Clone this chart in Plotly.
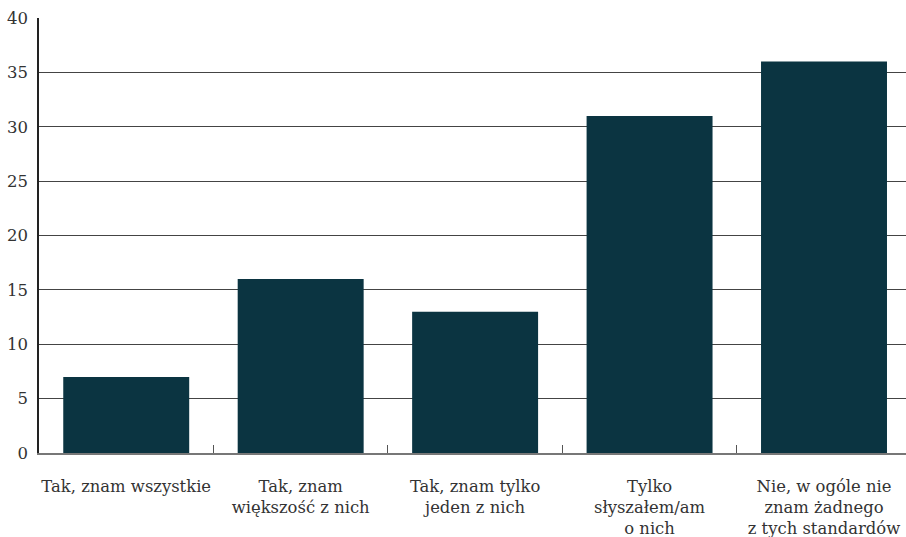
import plotly.graph_objects as go

# Survey answers and percentage of respondents
categories = [
    "Tak, znam wszystkie",
    "Tak, znam<br>większość z nich",
    "Tak, znam tylko<br>jeden z nich",
    "Tylko<br>słyszałem/am<br>o nich",
    "Nie, w ogóle nie<br>znam żadnego<br>z tych standardów",
]
values = [7, 16, 13, 31, 36]
y_ticks = [0, 5, 10, 15, 20, 25, 30, 35, 40]

FONT = "DejaVu Serif"
BAR_COLOR = "#0b3441"

fig = go.Figure(
    go.Bar(
        x=categories,
        y=values,
        width=0.722,
        marker=dict(color=BAR_COLOR, line=dict(width=0)),
        hoverinfo="skip",
    )
)

fig.update_layout(
    width=906,
    height=537,
    margin=dict(l=39, r=0, t=18, b=84),
    paper_bgcolor="white",
    plot_bgcolor="white",
    showlegend=False,
    font=dict(family=FONT, size=16, color="#333333"),
)

fig.update_xaxes(
    type="category",
    range=[-0.5, 4.47],
    tickson="boundaries",
    ticks="inside",
    ticklen=8,
    tickwidth=1,
    tickcolor="#555555",
    tickangle=0,
    automargin=False,
    showgrid=False,
    showline=True,
    linecolor="#777777",
    linewidth=2,
    tickfont=dict(family=FONT, size=16.4, color="#333333"),
    ticklabelstandoff=17,
    zeroline=False,
    fixedrange=True,
)

fig.update_yaxes(
    range=[0, 40],
    tickmode="array",
    tickvals=y_ticks,
    ticks="",
    automargin=False,
    showgrid=True,
    gridcolor="#444444",
    gridwidth=1,
    showline=True,
    linecolor="#222222",
    linewidth=1.5,
    zeroline=False,
    tickfont=dict(family=FONT, size=16.5, color="#333333"),
    ticklabelstandoff=6,
    fixedrange=True,
)

fig.write_html("out.html")
